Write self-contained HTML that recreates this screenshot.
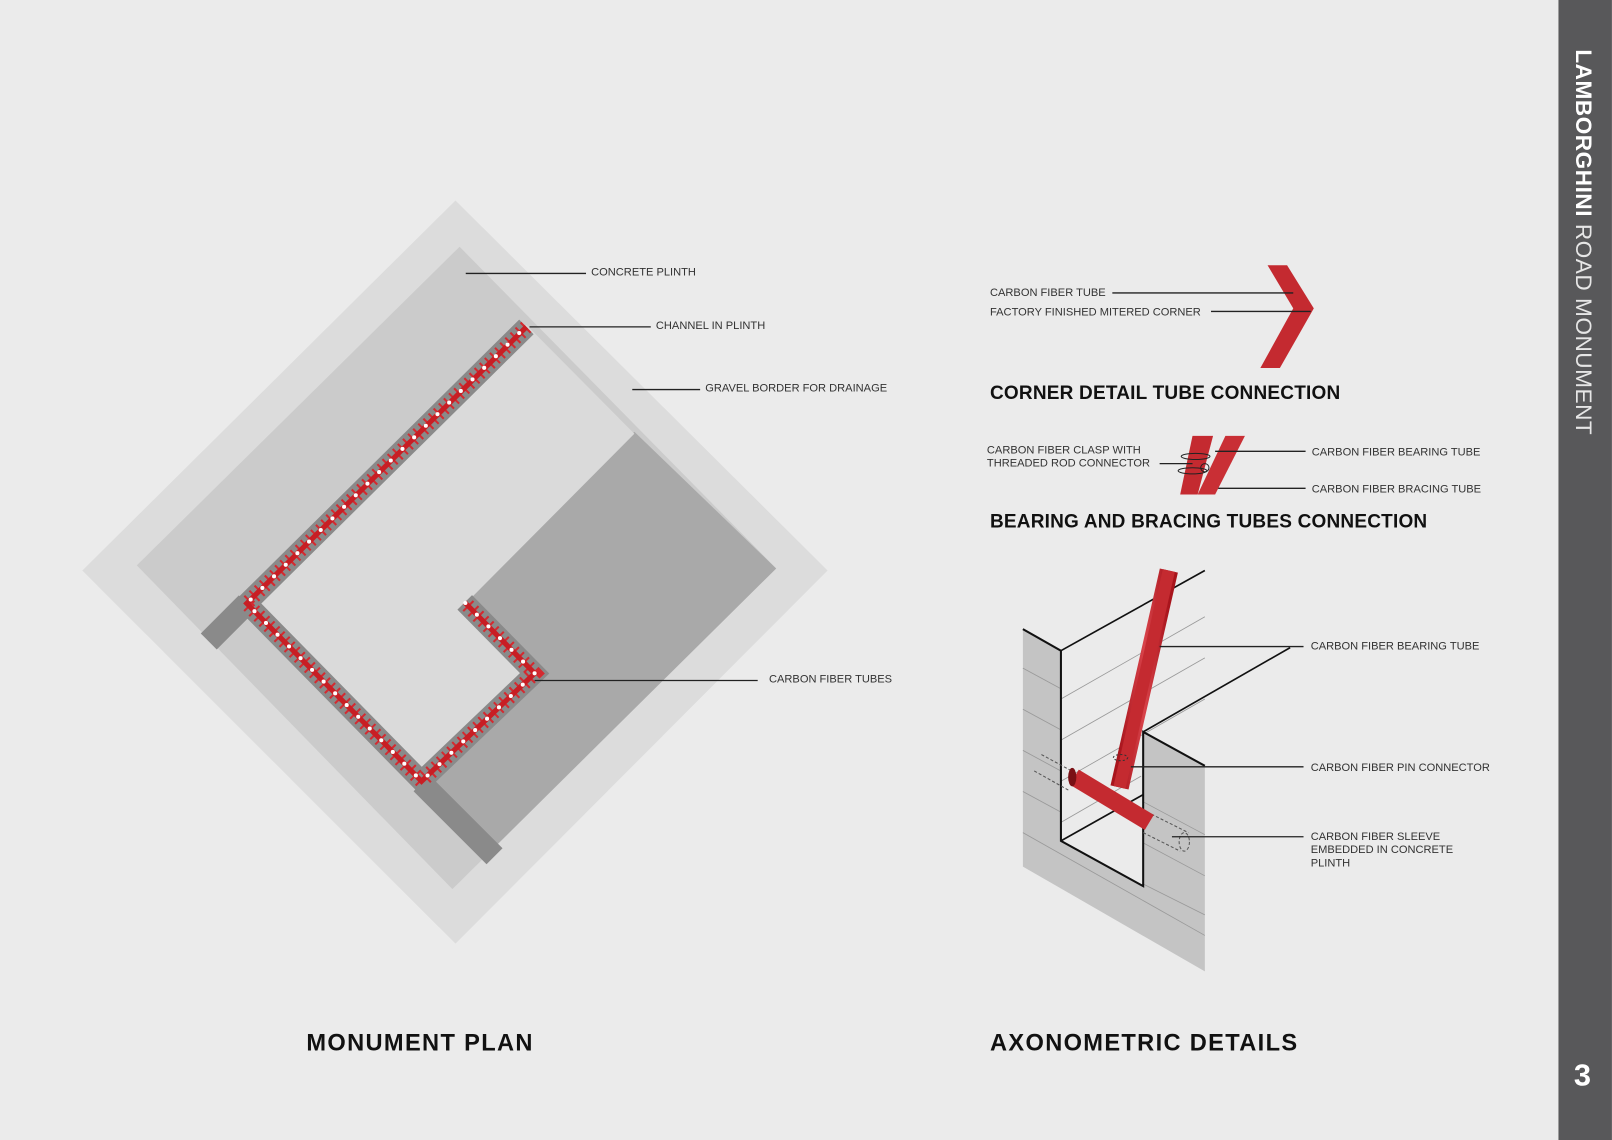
<!DOCTYPE html>
<html><head><meta charset="utf-8"><style>
html,body{margin:0;padding:0;background:#ebebeb;}
svg{display:block;}
text{font-family:"Liberation Sans",sans-serif;}
.lb{font-size:10.8px;fill:#333;}
.tt{font-size:18.5px;font-weight:bold;fill:#111;letter-spacing:0.2px;}
.big{font-size:23px;font-weight:bold;fill:#111;letter-spacing:1.3px;}
.ln{stroke:#222;stroke-width:1.3;fill:none;}
</style></head><body>
<svg width="1612" height="1140" viewBox="0 0 1568 1109" xmlns="http://www.w3.org/2000/svg">
<defs>
<linearGradient id="rt" x1="0" y1="0" x2="1" y2="0">
<stop offset="0" stop-color="#a8141c"/><stop offset="0.5" stop-color="#d8434a"/><stop offset="1" stop-color="#a8141c"/>
</linearGradient>
</defs>
<rect width="1568" height="1109" fill="#ebebeb"/>
<!-- sidebar -->
<rect x="1516" y="0" width="52" height="1109" fill="#58585a"/>
<text transform="translate(1533,48) rotate(90)" font-size="22" fill="#fff" letter-spacing="0.5"><tspan font-weight="bold">LAMBORGHINI</tspan><tspan fill="#e6e6e6"> ROAD MONUMENT</tspan></text>
<text x="1531" y="1056" font-size="30" font-weight="bold" fill="#fff">3</text>

<!-- plan -->
<polygon points="443,195 805,555 443,918 80,555" fill="#dcdcdc"/>
<polygon points="447,240 755,553 440,865 133,550" fill="#cbcbcb"/>
<polygon points="617,420 755,553 470,835 410,762 520,655 452,588" fill="#a9a9a9"/>
<polygon points="512,316 617,422 452,588 520,655 410,762 240,587" fill="#dadada"/>
<line x1="240" y1="587" x2="203" y2="624" stroke="#8a8a8a" stroke-width="22"/>
<line x1="410" y1="762" x2="481" y2="833" stroke="#8a8a8a" stroke-width="22"/>
<polyline points="512,318 240,587 410,760 520,655 452,586" fill="none" stroke="#8a8a8a" stroke-width="20" stroke-linejoin="miter"/>
<polyline points="512,318 240,587 410,760 520,655 452,586" fill="none" stroke="#d42a30" stroke-width="14" stroke-dasharray="2 5" stroke-linejoin="miter"/>
<polyline points="512,318 240,587 410,760 520,655 452,586" fill="none" stroke="#c81e24" stroke-width="5" stroke-linejoin="miter"/>
<polyline points="505,324 240,587 410,760 520,655 452,586" fill="none" stroke="#fff" stroke-width="4" stroke-linecap="round" stroke-dasharray="0 16"/>

<line class="ln" x1="453" y1="266" x2="570" y2="266"/><text class="lb" x="575" y="268">CONCRETE PLINTH</text>
<line class="ln" x1="515" y1="318" x2="633" y2="318"/><text class="lb" x="638" y="320">CHANNEL IN PLINTH</text>
<line class="ln" x1="615" y1="379" x2="681" y2="379"/><text class="lb" x="686" y="381">GRAVEL BORDER FOR DRAINAGE</text>
<line class="ln" x1="520" y1="662" x2="737" y2="662"/><text class="lb" x="748" y="664">CARBON FIBER TUBES</text>

<text class="big" x="298" y="1022">MONUMENT PLAN</text>
<text class="big" x="963" y="1022" letter-spacing="0.8">AXONOMETRIC DETAILS</text>

<!-- corner detail -->
<polygon points="1233,258 1252,258 1278,300 1245,358 1226,358 1258,300" fill="#c42a30"/>
<text class="lb" x="963" y="288">CARBON FIBER TUBE</text><line class="ln" x1="1082" y1="285" x2="1258" y2="285"/>
<text class="lb" x="963" y="307">FACTORY FINISHED MITERED CORNER</text><line class="ln" x1="1178" y1="303" x2="1275" y2="303"/>
<text class="tt" x="963" y="388">CORNER DETAIL TUBE CONNECTION</text>

<!-- clasp -->
<polygon points="1160,424 1180,424 1165,481 1148,481" fill="#c42a30"/>
<polygon points="1192,424 1211,424 1182,481 1165,481" fill="#c92f35"/>
<ellipse cx="1163" cy="444" rx="14" ry="3" fill="none" stroke="#222"/>
<ellipse cx="1160" cy="458" rx="14" ry="3" fill="none" stroke="#222"/>
<circle cx="1172" cy="455" r="4" fill="none" stroke="#222"/>
<text class="lb" x="960" y="441">CARBON FIBER CLASP WITH</text>
<text class="lb" x="960" y="454">THREADED ROD CONNECTOR</text>
<line class="ln" x1="1128" y1="451" x2="1160" y2="451"/>
<line class="ln" x1="1182" y1="439" x2="1270" y2="439"/><text class="lb" x="1276" y="443">CARBON FIBER BEARING TUBE</text>
<line class="ln" x1="1185" y1="475" x2="1270" y2="475"/><text class="lb" x="1276" y="479">CARBON FIBER BRACING TUBE</text>
<text class="tt" x="963" y="513">BEARING AND BRACING TUBES CONNECTION</text>

<!-- axonometric -->
<polygon points="995,612 1032,633 1032,818 1112,862 1112,712 1172,745 1172,945 995,843" fill="#c4c4c4"/>
<g stroke="#999" stroke-width="0.8">
<line x1="995" y1="650" x2="1032" y2="670"/><line x1="995" y1="690" x2="1032" y2="710"/>
<line x1="995" y1="730" x2="1032" y2="750"/><line x1="995" y1="770" x2="1032" y2="790"/>
<line x1="995" y1="810" x2="1172" y2="910"/><line x1="1112" y1="780" x2="1172" y2="812"/>
<line x1="1112" y1="820" x2="1172" y2="852"/><line x1="1112" y1="860" x2="1172" y2="890"/>
<line x1="1032" y1="680" x2="1172" y2="600"/><line x1="1032" y1="720" x2="1172" y2="640"/>
<line x1="1032" y1="760" x2="1172" y2="680"/><line x1="1032" y1="800" x2="1110" y2="755"/>
</g>
<polyline points="995,612 1032,633 1032,818 1112,862 1112,712 1172,745" fill="none" stroke="#111" stroke-width="2"/>
<line x1="1032" y1="633" x2="1172" y2="555" stroke="#111" stroke-width="1.6"/>
<line x1="1112" y1="712" x2="1255" y2="630" stroke="#111" stroke-width="1.6"/>
<line x1="1032" y1="818" x2="1112" y2="773" stroke="#111" stroke-width="1.6"/>
<g fill="none" stroke="#555" stroke-dasharray="3 2">
<line x1="1013" y1="734" x2="1048" y2="753"/><line x1="1006" y1="750" x2="1040" y2="769"/>
<line x1="1120" y1="792" x2="1156" y2="810"/><line x1="1112" y1="810" x2="1148" y2="828"/>
<ellipse cx="1152" cy="819" rx="5" ry="9"/>
</g>
<line x1="1045" y1="756" x2="1118" y2="800" stroke="#c42a30" stroke-width="17"/>
<ellipse cx="1043" cy="756" rx="4" ry="9" fill="#7a1015"/>
<line x1="1137" y1="555" x2="1089" y2="766" stroke="url(#rt)" stroke-width="18"/>
<line x1="1137" y1="555" x2="1089" y2="766" stroke="#c42a30" stroke-width="12"/>
<ellipse cx="1090" cy="737" rx="7" ry="3" fill="none" stroke="#333" stroke-dasharray="2 2"/>
<line class="ln" x1="1128" y1="629" x2="1268" y2="629"/><text class="lb" x="1275" y="632">CARBON FIBER BEARING TUBE</text>
<line class="ln" x1="1100" y1="746" x2="1268" y2="746"/><text class="lb" x="1275" y="750">CARBON FIBER PIN CONNECTOR</text>
<line class="ln" x1="1140" y1="814" x2="1268" y2="814"/>
<text class="lb" x="1275" y="817">CARBON FIBER SLEEVE</text>
<text class="lb" x="1275" y="830">EMBEDDED IN CONCRETE</text>
<text class="lb" x="1275" y="843">PLINTH</text>
</svg>
</body></html>
